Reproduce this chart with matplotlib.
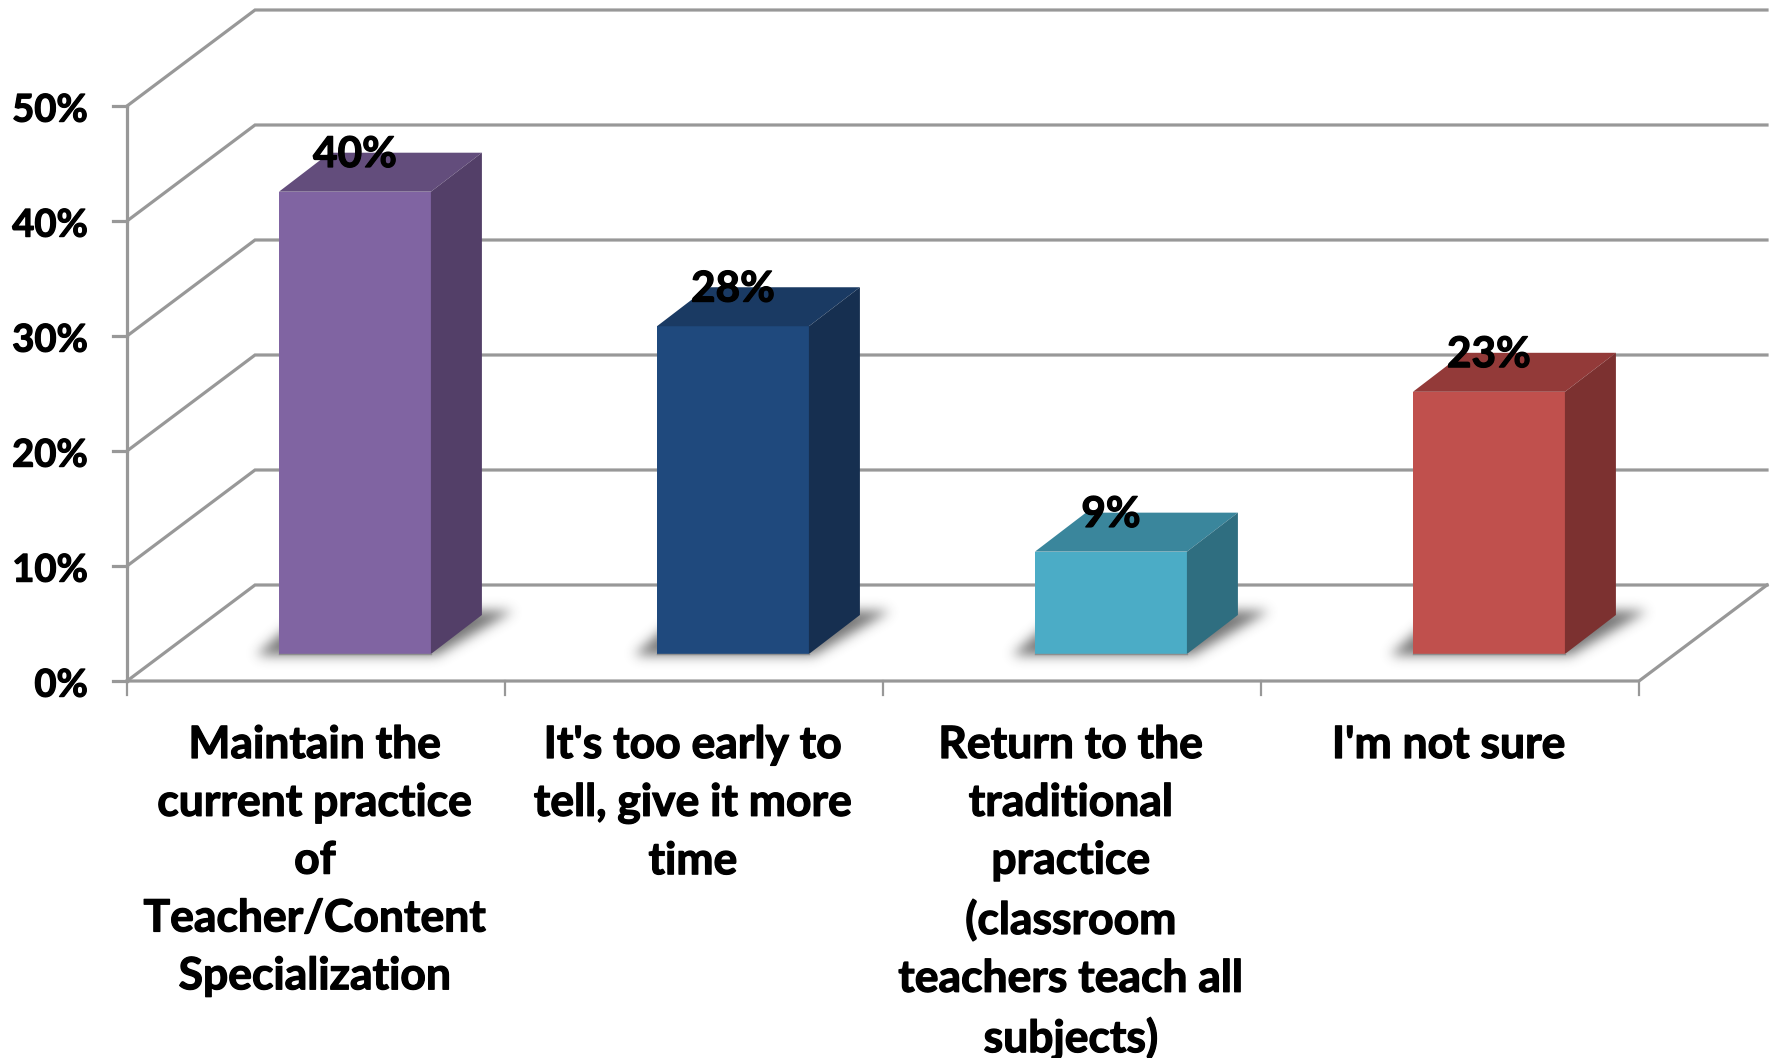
#! /usr/bin/python
# 3D style column chart drawn on a flat axes, x in categories and y in percent

import numpy as np
import matplotlib
matplotlib.use("Agg")
import matplotlib.pyplot as plt
import matplotlib.patheffects as pe
from matplotlib.patches import Polygon
from matplotlib.path import Path

plt.rcParams['font.family'] = ['Lato', 'DejaVu Sans']

# Data
categories = ["Maintain the\ncurrent practice\nof\nTeacher/Content\nSpecialization",
              "It's too early to\ntell, give it more\ntime",
              "Return to the\ntraditional\npractice\n(classroom\nteachers teach all\nsubjects)",
              "I'm not sure"]
values = [40.2, 28.5, 8.9, 22.8]
value_labels = ["40%", "28%", "9%", "23%"]
ytick_values = [0, 10, 20, 30, 40, 50]
ytick_labels = ["0%", "10%", "20%", "30%", "40%", "50%"]

front_colors = ["#8064A2", "#1F497D", "#4BACC6", "#C0504D"]
top_colors = ["#634D7C", "#1A3A63", "#3A869C", "#933A39"]
side_colors = ["#533F68", "#162F50", "#2F6E80", "#7C3130"]

# Scale of the picture
W, H = 1777, 1058
x0_px, y0_px = 127, 681    # where the axes origin sits
cat_px, pct_px = 378, 11.5 # pixels per category and per percent

# Depth of the floor and of the bars, in data units
floor_dx, floor_dy = 128/cat_px, 96/pct_px
bar_dx, bar_dy = 51/cat_px, 39/pct_px
bar_left, bar_width = 0.402, 0.402
bar_lift = 27/pct_px
grid_c = "#989898"
grid_lw = 2.3
bold = [pe.withStroke(linewidth=0.9, foreground="black")]


def soft_shadow(ax, corners, sigma=6, pad=24, peak=0.72):
    # rasterize the polygon one pixel per cell and blur it
    xs = np.array([c[0] for c in corners])
    ys = np.array([c[1] for c in corners])
    gx = np.arange(xs.min() - pad/cat_px, xs.max() + pad/cat_px, 1/cat_px)
    gy = np.arange(ys.min() - pad/pct_px, ys.max() + pad/pct_px, 1/pct_px)
    mx, my = np.meshgrid(gx, gy)
    mask = Path(corners).contains_points(np.c_[mx.ravel(), my.ravel()]).reshape(mx.shape).astype(float)
    k = np.exp(-0.5*(np.arange(-3*sigma, 3*sigma+1)/sigma)**2)
    k = k/k.sum()
    mask = np.apply_along_axis(lambda r: np.convolve(r, k, mode="same"), 0, mask)
    mask = np.apply_along_axis(lambda r: np.convolve(r, k, mode="same"), 1, mask)
    rgba = np.zeros(mask.shape + (4,))
    rgba[..., :3] = 0.25
    rgba[..., 3] = mask*peak
    ax.imshow(rgba, extent=(gx[0], gx[-1], gy[0], gy[-1]), origin="lower", aspect="auto", zorder=2, interpolation="bilinear")


fig = plt.figure(figsize=(W/100, H/100), dpi=100)
ax = fig.add_axes([0, 0, 1, 1])
xlim = (-x0_px/cat_px, (W-x0_px)/cat_px)
ylim = ((y0_px-H)/pct_px, y0_px/pct_px)
ax.axis("off")

n = len(categories)

# walls and floor
for v in ytick_values:
    ax.plot([0, floor_dx, n+floor_dx], [v, v+floor_dy, v+floor_dy], color=grid_c, lw=grid_lw, zorder=1, solid_joinstyle="miter")
    ax.plot([-14/cat_px, 0], [v, v], color=grid_c, lw=grid_lw, zorder=1)
ax.plot([0, 0], [0, ytick_values[-1]], color=grid_c, lw=grid_lw, zorder=1)
ax.plot([0, n, n+floor_dx], [0, 0, floor_dy], color=grid_c, lw=grid_lw, zorder=1)
for i in range(n+1):
    ax.plot([i, i], [0, -14/pct_px], color=grid_c, lw=1.6, zorder=1)

# bars
for i in range(n):
    xl = i + bar_left
    xr = xl + bar_width
    yb = bar_lift
    yt = yb + values[i]

    soft_shadow(ax, [(xl-24/cat_px, yb-2/pct_px), (xr+4/cat_px, yb-2/pct_px),
                     (xr+bar_dx+30/cat_px, yb+bar_dy+4/pct_px), (xl+bar_dx-24/cat_px, yb+bar_dy+4/pct_px)])

    ax.add_patch(Polygon([(xl, yb), (xr, yb), (xr, yt), (xl, yt)], closed=True, fc=front_colors[i], ec="none", zorder=3))
    ax.add_patch(Polygon([(xl, yt), (xr, yt), (xr+bar_dx, yt+bar_dy), (xl+bar_dx, yt+bar_dy)], closed=True, fc=top_colors[i], ec="none", zorder=3))
    ax.add_patch(Polygon([(xr, yb), (xr+bar_dx, yb+bar_dy), (xr+bar_dx, yt+bar_dy), (xr, yt)], closed=True, fc=side_colors[i], ec="none", zorder=3))
    ax.plot([xl, xr], [yb, yb], color="#8f8f8f", lw=1.0, zorder=3)

    ax.text(xl+bar_width/2, yt+bar_dy-0.2, value_labels[i], ha="center", va="center", fontsize=30.5, fontweight="bold",
            color="black", zorder=4, path_effects=bold)

# tick labels
for v, lab in zip(ytick_values, ytick_labels):
    ax.text(-39/cat_px, v-0.4, lab, ha="right", va="center", fontsize=27.5, fontweight="bold", color="black", path_effects=bold)
for i, lab in enumerate(categories):
    ax.text(i+0.5-0.003, -44/pct_px, lab, ha="center", va="top", fontsize=32, fontweight="bold", color="black", linespacing=1.54, path_effects=bold)

ax.set_xlim(xlim)
ax.set_ylim(ylim)
fig.savefig("out.png", dpi=100)
